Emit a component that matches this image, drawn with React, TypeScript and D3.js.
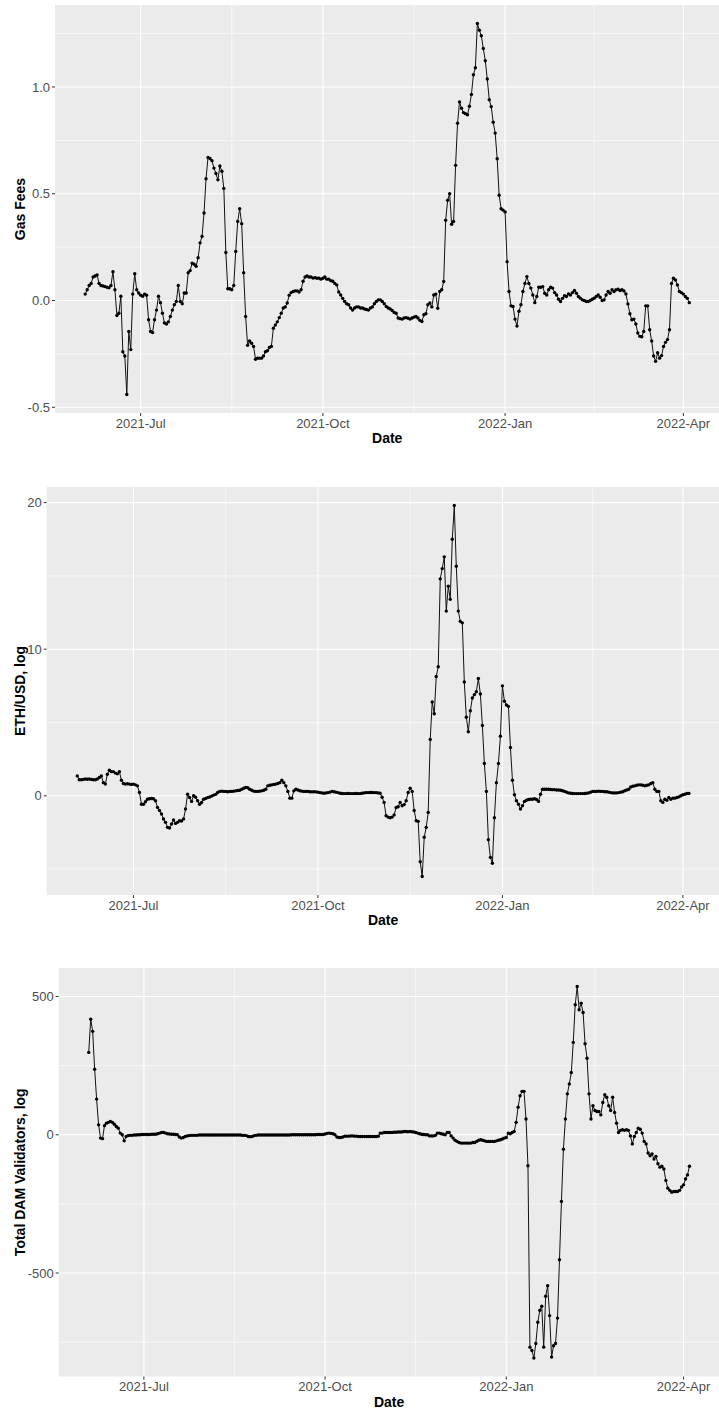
import React from "react";
import * as d3 from "d3";

// daily series, first day 2021-06-03
const startDate = new Date(2021, 5, 3);

const gasFees = [
  0.03, 0.05, 0.07, 0.08, 0.11, 0.115, 0.12, 0.08, 0.07, 0.068,
  0.065, 0.062, 0.06, 0.07, 0.135, 0.05, -0.07, -0.06, 0.02, -0.24,
  -0.26, -0.44, -0.145, -0.23, 0.03, 0.125, 0.05, 0.035, 0.025, 0.02,
  0.03, 0.025, -0.09, -0.145, -0.15, -0.09, -0.045, 0.02, -0.01, -0.06,
  -0.105, -0.11, -0.1, -0.075, -0.045, -0.02, -0.005, 0.07, -0.005, -0.015,
  0.035, 0.035, 0.13, 0.14, 0.175, 0.17, 0.16, 0.2, 0.27, 0.3,
  0.41, 0.57, 0.67, 0.665, 0.655, 0.62, 0.595, 0.565, 0.63, 0.605,
  0.525, 0.225, 0.055, 0.055, 0.05, 0.07, 0.23, 0.37, 0.43, 0.36,
  0.13, -0.075, -0.21, -0.19, -0.2, -0.215, -0.275, -0.27, -0.27, -0.27,
  -0.26, -0.24, -0.235, -0.22, -0.215, -0.13, -0.115, -0.1, -0.08, -0.06,
  -0.035, -0.03, -0.012, 0.025, 0.037, 0.042, 0.045, 0.045, 0.04, 0.05,
  0.09, 0.11, 0.115, 0.11, 0.11, 0.105, 0.107, 0.104, 0.105, 0.1,
  0.104, 0.11, 0.1, 0.1, 0.093, 0.09, 0.08, 0.073, 0.04, 0.026,
  0.01, -0.005, -0.015, -0.02, -0.035, -0.045, -0.035, -0.03, -0.03, -0.035,
  -0.035, -0.04, -0.042, -0.045, -0.035, -0.03, -0.015, -0.005, 0.003, 0.003,
  -0.005, -0.015, -0.028, -0.035, -0.04, -0.047, -0.056, -0.06, -0.082, -0.085,
  -0.087, -0.082, -0.08, -0.083, -0.087, -0.082, -0.078, -0.075, -0.082, -0.093,
  -0.098, -0.067, -0.062, -0.02, -0.012, -0.03, 0.026, 0.03, -0.036, 0.042,
  0.05, 0.089, 0.376, 0.47, 0.5, 0.357, 0.37, 0.633, 0.83, 0.93,
  0.9, 0.88, 0.875, 0.87, 0.91, 0.965, 1.057, 1.09, 1.297, 1.266,
  1.24, 1.18, 1.123, 1.037, 0.94, 0.908, 0.835, 0.784, 0.664, 0.493,
  0.43, 0.423, 0.415, 0.182, 0.042, -0.025, -0.028, -0.087, -0.12, -0.05,
  -0.02, 0.042, 0.08, 0.112, 0.08, 0.058, 0.026, -0.01, 0.019, 0.062,
  0.062, 0.065, 0.034, 0.026, 0.05, 0.062, 0.058, 0.037, 0.026, 0.006,
  -0.005, 0.01, 0.022, 0.019, 0.031, 0.026, 0.037, 0.047, 0.034, 0.019,
  0.011, 0.003, 0, -0.005, -0.005, 0, 0.006, 0.011, 0.019, 0.026,
  0.015, 0, 0.003, 0.026, 0.042, 0.034, 0.05, 0.042, 0.05, 0.053,
  0.047, 0.05, 0.045, 0.031, -0.016, -0.062, -0.09, -0.087, -0.11, -0.152,
  -0.168, -0.17, -0.145, -0.025, -0.025, -0.137, -0.19, -0.26, -0.285, -0.245,
  -0.27, -0.258, -0.215, -0.196, -0.183, -0.137, 0.08, 0.104, 0.096, 0.073,
  0.042, 0.037, 0.03, 0.019, 0.01, -0.01,
];

const ethUsd = [
  1.36, 1.1, 1.1, 1.12, 1.15, 1.13, 1.15, 1.12, 1.1, 1.1,
  1.15, 1.25, 1.36, 0.9, 0.8, 1.47, 1.74, 1.65, 1.65, 1.55,
  1.5, 1.65, 1.06, 0.84, 0.8, 0.82, 0.8, 0.78, 0.8, 0.75,
  0.68, 0.23, -0.57, -0.57, -0.4, -0.23, -0.2, -0.18, -0.2, -0.34,
  -0.79, -1.0, -1.24, -1.58, -1.81, -2.15, -2.19, -1.92, -1.65, -1.88,
  -1.81, -1.7, -1.72, -1.58, -0.9, 0.11, -0.11, -0.38, 0, -0.1,
  -0.34, -0.57, -0.45, -0.23, -0.18, -0.12, -0.08, -0.02, 0.05, 0.1,
  0.23, 0.3, 0.32, 0.3, 0.3, 0.28, 0.3, 0.3, 0.32, 0.34,
  0.36, 0.38, 0.45, 0.52, 0.57, 0.55, 0.45, 0.38, 0.32, 0.3,
  0.3, 0.32, 0.34, 0.38, 0.45, 0.68, 0.72, 0.75, 0.78, 0.8,
  0.84, 0.9, 1.06, 0.9, 0.68, 0.3, -0.16, -0.16, 0.34, 0.45,
  0.4, 0.35, 0.32, 0.3, 0.3, 0.3, 0.28, 0.27, 0.28, 0.27,
  0.25, 0.22, 0.2, 0.18, 0.2, 0.22, 0.25, 0.3, 0.28, 0.25,
  0.22, 0.18, 0.16, 0.15, 0.15, 0.16, 0.15, 0.15, 0.15, 0.16,
  0.15, 0.15, 0.18, 0.2, 0.22, 0.22, 0.23, 0.23, 0.22, 0.22,
  0.2, 0.18, -0.1, -0.45, -1.36, -1.45, -1.5, -1.45, -1.3, -0.8,
  -0.75, -0.45, -0.68, -0.6, -0.34, 0.23, 0.52, 0.3, -1.0, -1.7,
  -1.74, -4.5, -5.5, -2.83, -2.15, -1.13, 3.85, 6.4, 5.6, 8.14,
  8.8, 14.8, 15.5, 16.3, 12.6, 14.3, 13.4, 17.5, 19.8, 15.66,
  12.6, 11.9, 11.8, 7.76, 5.36, 4.37, 5.8, 6.67, 6.9, 7.1,
  8.0, 6.95, 4.8, 2.2, 0.3, -3.0, -4.2, -4.6, -1.5, 0.9,
  2.2, 4.07, 7.5, 6.45, 6.2, 6.1, 3.3, 1.06, 0.07, -0.34,
  -0.57, -0.9, -0.68, -0.38, -0.3, -0.25, -0.23, -0.23, -0.2, -0.25,
  -0.38, 0.11, 0.45, 0.45, 0.45, 0.45, 0.43, 0.42, 0.42, 0.4,
  0.4, 0.38, 0.35, 0.3, 0.25, 0.2, 0.18, 0.16, 0.15, 0.15,
  0.15, 0.15, 0.15, 0.16, 0.18, 0.2, 0.25, 0.3, 0.3, 0.3,
  0.32, 0.3, 0.3, 0.28, 0.28, 0.25, 0.22, 0.2, 0.2, 0.2,
  0.22, 0.25, 0.28, 0.35, 0.4, 0.45, 0.6, 0.65, 0.68, 0.72,
  0.75, 0.75, 0.72, 0.68, 0.72, 0.75, 0.84, 0.9, 0.45, 0.3,
  0.3, -0.34, -0.45, -0.23, -0.3, -0.11, -0.23, -0.16, -0.16, -0.11,
  -0.07, 0, 0.07, 0.11, 0.16, 0.16,
];

const damValidators = [
  298, 418, 374, 237, 129, 36, -12, -14, 33, 42,
  45, 48, 45, 38, 30, 24, 6, 0, -22, -6,
  -3, -2, -2, -1, -1, 0, 0, 1, 1, 1,
  1, 1, 2, 2, 2, 4, 6, 8, 8, 6,
  4, 3, 2, 2, 1, 0, -8, -12, -10, -6,
  -4, -3, -2, -2, -2, -2, -1, -1, -1, -1,
  -1, -1, -1, -1, -1, -1, -1, -1, -1, -1,
  -1, -1, -1, -1, -1, -1, -1, -1, -2, -2,
  -3, -6, -7, -6, -3, -2, -1, -1, -1, -1,
  -1, -1, -1, -1, -1, -1, -1, -1, -1, -1,
  -1, -1, -1, 0, 0, 0, 0, 0, 0, 0,
  0, 0, 0, 0, 0, 0, 1, 1, 1, 1,
  3, 5, 6, 5, 4, 0, -8, -10, -10, -8,
  -5, -5, -5, -4, -4, -5, -5, -6, -6, -6,
  -6, -6, -6, -6, -6, -6, -6, -5, 6, 6,
  8, 8, 8, 8, 8, 9, 9, 10, 10, 10,
  12, 12, 11, 12, 11, 10, 8, 6, 4, 2,
  1, 0, 0, -4, -4, -4, -2, 6, 6, 4,
  2, 0, 8, 8, -4, -12, -20, -24, -28, -30,
  -30, -30, -30, -30, -30, -28, -28, -24, -20, -18,
  -20, -22, -24, -24, -24, -24, -24, -22, -20, -18,
  -15, -12, -10, 6, 4, 8, 12, 45, 100, 141,
  157, 157, 57, -112, -768, -780, -807, -755, -678, -635,
  -620, -768, -584, -546, -654, -804, -763, -755, -663, -452,
  -241, -52, 57, 148, 184, 225, 334, 470, 536, 452,
  476, 442, 329, 277, 148, 57, 105, 88, 84, 84,
  72, 117, 145, 136, 105, 88, 136, 81, 42, 8,
  16, 18, 16, 18, 16, -4, -33, -6, 8, 24,
  20, 6, -24, -33, -66, -76, -69, -88, -78, -105,
  -117, -114, -124, -165, -193, -201, -208, -205, -205, -205,
  -201, -189, -181, -160, -145, -114,
];

const xTickDates = [
  new Date(2021, 6, 1),
  new Date(2021, 9, 1),
  new Date(2022, 0, 1),
  new Date(2022, 3, 1),
];
const gasTicks = [-0.5, 0, 0.5, 1.0];
const ethTicks = [0, 10, 20];
const damTicks = [-500, 0, 500];

const W = 719;
const H = 1414;
const FONT = "'Liberation Sans', Arial, Helvetica, sans-serif";

function expand(lo, hi) {
  const pad = (hi - lo) * 0.05;
  return [lo - pad, hi + pad];
}

function minorBetween(majors, lo, hi) {
  const step = majors[1] - majors[0];
  const out = [];
  const ext = [majors[0] - step, ...majors, majors[majors.length - 1] + step];
  for (let i = 0; i < ext.length - 1; i++) {
    const m = (ext[i] + ext[i + 1]) / 2;
    if (m >= lo && m <= hi) out.push(m);
  }
  return out;
}

function Panel({ values, yTicks, yFormat, title, left, top, bottom, right }) {
  const dates = values.map((_, i) => d3.timeDay.offset(startDate, i));
  const [d0, d1] = d3.extent(dates);
  const tpad = (d1.getTime() - d0.getTime()) * 0.05;
  const x = d3
    .scaleTime()
    .domain([new Date(d0.getTime() - tpad), new Date(d1.getTime() + tpad)])
    .range([left, right]);
  const [vmin, vmax] = d3.extent(values);
  const y = d3.scaleLinear().domain(expand(vmin, vmax)).range([bottom, top]);

  const [xlo, xhi] = x.domain().map((d) => d.getTime());
  const xMinor = minorBetween(
    xTickDates.map((d) => d.getTime()),
    xlo,
    xhi
  ).map((t) => new Date(t));
  const [ylo, yhi] = y.domain();
  const yMinor = minorBetween(yTicks, ylo, yhi);

  const line = d3
    .line()
    .x((d) => x(d[0]))
    .y((d) => y(d[1]));
  const pts = dates.map((d, i) => [d, values[i]]);
  const cx = (left + right) / 2;
  const cy = (top + bottom) / 2;

  return (
    <g>
      <rect x={left} y={top} width={right - left} height={bottom - top} fill="#EBEBEB" />
      {yMinor.map((v, i) => (
        <line key={"ym" + i} x1={left} x2={right} y1={y(v)} y2={y(v)} stroke="#fff" strokeWidth={0.55} />
      ))}
      {xMinor.map((d, i) => (
        <line key={"xm" + i} x1={x(d)} x2={x(d)} y1={top} y2={bottom} stroke="#fff" strokeWidth={0.55} />
      ))}
      {yTicks.map((v, i) => (
        <line key={"yg" + i} x1={left} x2={right} y1={y(v)} y2={y(v)} stroke="#fff" strokeWidth={1.1} />
      ))}
      {xTickDates.map((d, i) => (
        <line key={"xg" + i} x1={x(d)} x2={x(d)} y1={top} y2={bottom} stroke="#fff" strokeWidth={1.1} />
      ))}
      <path d={line(pts)} fill="none" stroke="#111" strokeWidth={1} />
      {pts.map((p, i) => (
        <circle key={i} cx={x(p[0])} cy={y(p[1])} r={1.7} fill="#000" />
      ))}
      {yTicks.map((v, i) => (
        <g key={"yt" + i}>
          <line x1={left - 3} x2={left} y1={y(v)} y2={y(v)} stroke="#333" strokeWidth={1} />
          <text
            x={left - 5}
            y={y(v)}
            dy="0.35em"
            textAnchor="end"
            fontSize={13}
            fill="#4D4D4D"
            fontFamily={FONT}
          >
            {yFormat(v)}
          </text>
        </g>
      ))}
      {xTickDates.map((d, i) => (
        <g key={"xt" + i}>
          <line x1={x(d)} x2={x(d)} y1={bottom} y2={bottom + 3} stroke="#333" strokeWidth={1} />
          <text
            x={x(d)}
            y={bottom + 14.5}
            textAnchor="middle"
            fontSize={13}
            fill="#4D4D4D"
            fontFamily={FONT}
          >
            {d3.timeFormat("%Y-%b")(d)}
          </text>
        </g>
      ))}
      <text
        x={cx}
        y={bottom + 30}
        textAnchor="middle"
        fontSize={14}
        fontWeight="bold"
        fill="#000"
        fontFamily={FONT}
      >
        Date
      </text>
      <text
        transform={`translate(24.5,${cy}) rotate(-90)`}
        textAnchor="middle"
        fontSize={14}
        fontWeight="bold"
        fill="#000"
        fontFamily={FONT}
      >
        {title}
      </text>
    </g>
  );
}

export default function App() {
  return (
    <div style={{ position: "absolute", left: 0, top: 0 }}>
      <svg width={W} height={H} style={{ display: "block", background: "#fff" }}>
        <Panel
          values={gasFees}
          yTicks={gasTicks}
          yFormat={(v) => v.toFixed(1)}
          title="Gas Fees"
          left={55}
          top={5}
          bottom={413}
          right={719.5}
        />
        <Panel
          values={ethUsd}
          yTicks={ethTicks}
          yFormat={(v) => String(v)}
          title="ETH/USD, log"
          left={46.7}
          top={487}
          bottom={895}
          right={719.5}
        />
        <Panel
          values={damValidators}
          yTicks={damTicks}
          yFormat={(v) => String(v)}
          title="Total DAM Validators, log"
          left={58.7}
          top={968}
          bottom={1376.5}
          right={719.5}
        />
      </svg>
    </div>
  );
}
